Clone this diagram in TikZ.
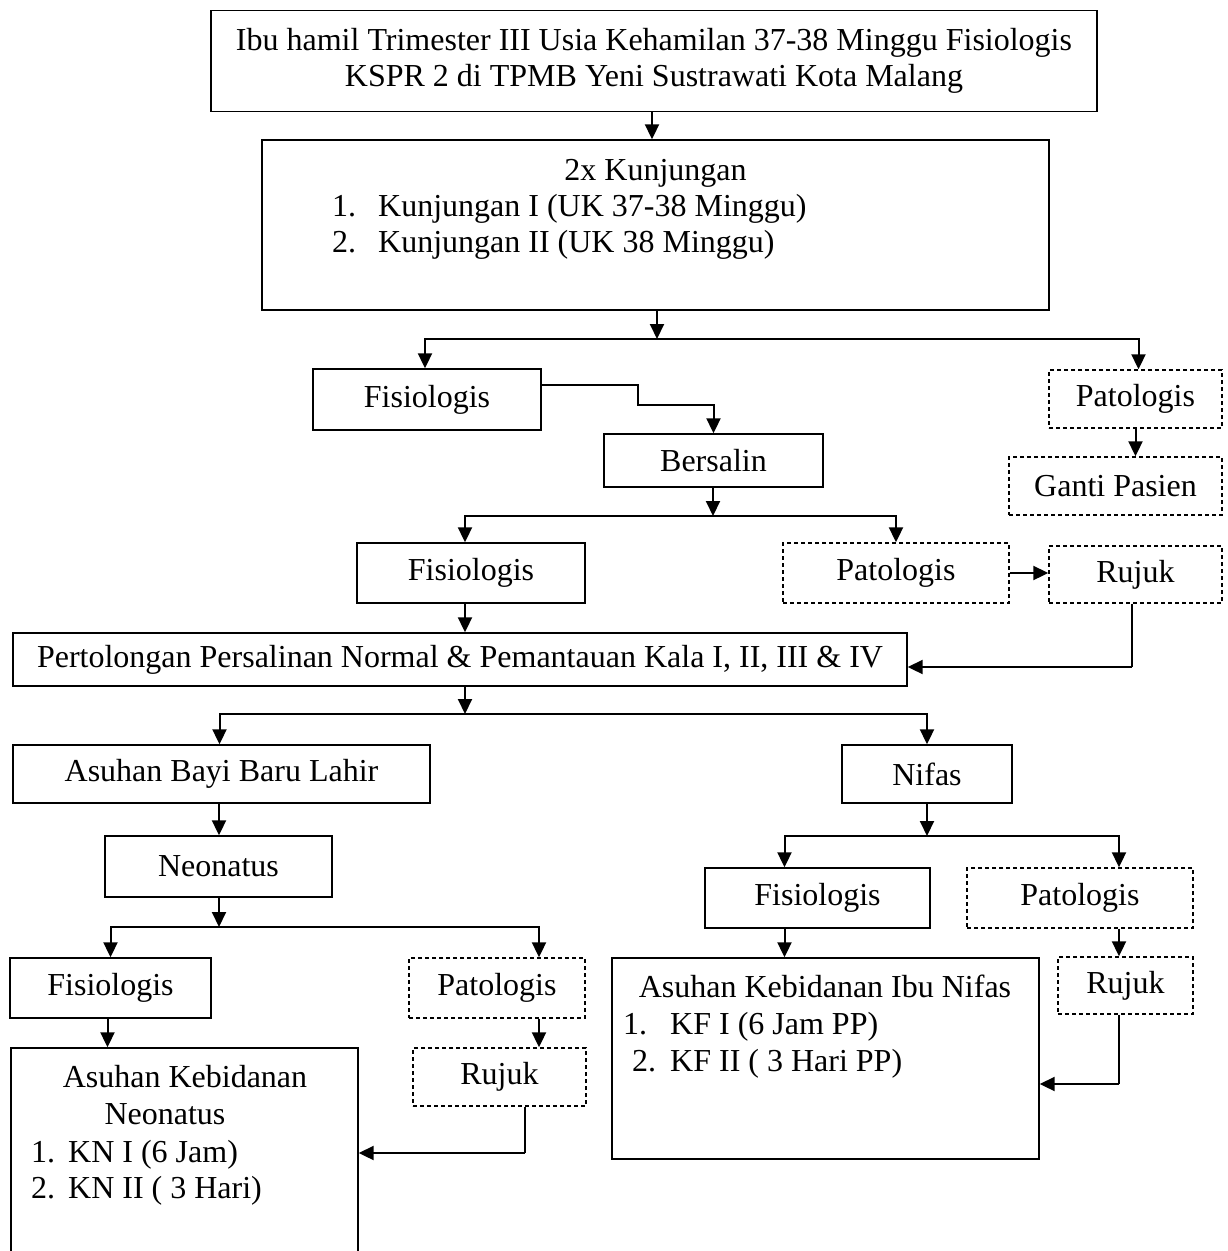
\documentclass[tikz,border=0pt]{standalone}
\usepackage{fontspec}
\setmainfont{Liberation Serif}
\usetikzlibrary{arrows.meta, calc}

\tikzset{
  box/.style={draw, line width=1.4pt, inner sep=0pt},
  dbox/.style={box, dash pattern=on 4pt off 3pt},
  txt/.style={inner sep=0pt, anchor=base west},
  flow/.style={line width=2pt, -{Triangle[length=15pt,width=14pt]}},
  link/.style={line width=2pt}
}

\begin{document}
\begin{tikzpicture}[x=1pt, y=-1pt, font=\fontsize{32}{36.5}\selectfont]
			\useasboundingbox (0,0) rectangle (1227,1251);
			\fill[white] (0,0) rectangle (1227,1251);
			
			% Top of the flow
			\node[box, minimum width=886pt, minimum height=101pt, align=center] (hamil) at (654,61)
				{Ibu hamil Trimester III Usia Kehamilan 37-38 Minggu Fisiologis\\KSPR 2 di TPMB Yeni Sustrawati Kota Malang};
			\node[box, minimum width=787pt, minimum height=170pt] (kunj) at (655.5,225) {};
			\node[inner sep=0pt, anchor=base] (kunjT) at (655.5,180) {2x Kunjungan};
			\node[txt] (k1n) at (332,216) {1.};
			\node[txt] (k1t) at (378,216) {Kunjungan I (UK 37-38 Minggu)};
			\node[txt] (k2n) at (332,252) {2.};
			\node[txt] (k2t) at (378,252) {Kunjungan II (UK 38 Minggu)};
			
			% First split
			\node[box, minimum width=228pt, minimum height=61pt] (fis1) at (427,399.5) {Fisiologis};
			\node[dbox, minimum width=173pt, minimum height=58pt] (pat1) at (1135.5,399) {Patologis};
			\node[dbox, minimum width=213pt, minimum height=58pt] (ganti) at (1115.5,486) {Ganti Pasien};
			\node[box, minimum width=219pt, minimum height=53pt] (bers) at (713.5,460.5) {Bersalin};
			
			% Labour
			\node[box, minimum width=228pt, minimum height=60pt] (fis2) at (471,573) {Fisiologis};
			\node[dbox, minimum width=226pt, minimum height=60pt] (pat2) at (896,573) {Patologis};
			\node[dbox, minimum width=173pt, minimum height=57pt] (rujuk1) at (1135.5,574.5) {Rujuk};
			\node[box, minimum width=894pt, minimum height=53pt] (pert) at (460,659.5)
				{Pertolongan Persalinan Normal \& Pemantauan Kala I, II, III \& IV};
			
			% Baby side
			\node[box, minimum width=417pt, minimum height=58pt] (bbl) at (221.5,774) {Asuhan Bayi Baru Lahir};
			\node[box, minimum width=227pt, minimum height=61pt] (neo) at (218.5,866.5) {Neonatus};
			\node[box, minimum width=201pt, minimum height=60pt] (fis3) at (110.5,988) {Fisiologis};
			\node[dbox, minimum width=176pt, minimum height=60pt] (pat3) at (497,988) {Patologis};
			\node[dbox, minimum width=173pt, minimum height=58pt] (rujuk3) at (499.5,1077) {Rujuk};
			\node[box, minimum width=347pt, minimum height=252pt] (akn) at (184.5,1174) {};
			\node[inner sep=0pt, anchor=base] (aknT) at (185,1087) {Asuhan Kebidanan};
			\node[inner sep=0pt, anchor=base] (aknU) at (165,1124) {Neonatus};
			\node[txt] (n1n) at (31,1162) {1.};
			\node[txt] (n1t) at (68,1162) {KN I (6 Jam)};
			\node[txt] (n2n) at (31,1198) {2.};
			\node[txt] (n2t) at (68,1198) {KN II ( 3 Hari)};
			
			% Mother side
			\node[box, minimum width=170pt, minimum height=58pt] (nifas) at (927,774) {Nifas};
			\node[box, minimum width=225pt, minimum height=60pt] (fis4) at (817.5,898) {Fisiologis};
			\node[dbox, minimum width=226pt, minimum height=60pt] (pat4) at (1080,898) {Patologis};
			\node[dbox, minimum width=135pt, minimum height=57pt] (rujuk4) at (1125.5,985.5) {Rujuk};
			\node[box, minimum width=427pt, minimum height=201pt] (akin) at (825.5,1058.5) {};
			\node[inner sep=0pt, anchor=base] (akinT) at (825,997) {Asuhan Kebidanan Ibu Nifas};
			\node[txt] (f1n) at (623,1034) {1.};
			\node[txt] (f1t) at (670,1034) {KF I (6 Jam PP)};
			\node[txt] (f2n) at (632,1071) {2.};
			\node[txt] (f2t) at (670,1071) {KF II ( 3 Hari PP)};
			
			% Junctions
			\coordinate (j1) at (657,339);
			\coordinate (j2) at (638,405);
			\coordinate (j3) at (713,516);
			\coordinate (j4) at (1132,667);
			\coordinate (j5) at (465,714);
			\coordinate (j6) at (219,927);
			\coordinate (j7) at (525,1153);
			\coordinate (j8) at (927,836);
			\coordinate (j9) at (1119,1084);
			
			% Connectors
			\draw[flow] (hamil.south -| 652,0) -- (kunj.north -| 652,0);
			\draw[flow] (kunj.south -| j1) -- (j1);
			\draw[flow] (j1) -| ([xshift=-2pt]fis1.north);
			\draw[flow] (j1) -| ([xshift=3pt]pat1.north);
			\draw[flow] (pat1.south) -- (pat1.south |- ganti.north);
			\draw[flow] ([yshift=15pt]fis1.east) -| (j2) -| (bers.north);
			\draw[flow] (bers.south -| j3) -- (j3);
			\draw[flow] (j3) -| ([xshift=-6pt]fis2.north);
			\draw[flow] (j3) -| (pat2.north);
			\draw[flow] (pat2.east) -- (pat2.east -| rujuk1.west);
			\draw[flow] ([xshift=-6pt]fis2.south) -- ([xshift=-6pt]fis2.south |- pert.north);
			\draw[link] (rujuk1.south -| j4) -- (j4);
			\draw[flow] (j4) -- (j4 -| pert.east);
			\draw[flow] (pert.south -| j5) -- (j5);
			\draw[flow] (j5) -| ([xshift=-2pt]bbl.north);
			\draw[flow] (j5) -| (nifas.north);
			\draw[flow] (bbl.south -| j6) -- (neo.north -| j6);
			\draw[flow] (neo.south -| j6) -- (j6);
			\draw[flow] (j6) -| (fis3.north);
			\draw[flow] (j6) -| ([xshift=42pt]pat3.north);
			\draw[flow] ([xshift=42pt]pat3.south) -- ([xshift=42pt]pat3.south |- rujuk3.north);
			\draw[flow] ([xshift=-3pt]fis3.south) -- ([xshift=-3pt]fis3.south |- akn.north);
			\draw[link] (rujuk3.south -| j7) -- (j7);
			\draw[flow] (j7) -- (j7 -| akn.east);
			\draw[flow] (nifas.south) -- (j8);
			\draw[flow] (j8) -| ([xshift=-33pt]fis4.north);
			\draw[flow] (j8) -| ([xshift=39pt]pat4.north);
			\draw[flow] ([xshift=-33pt]fis4.south) -- ([xshift=-33pt]fis4.south |- akin.north);
			\draw[flow] ([xshift=39pt]pat4.south) -- ([xshift=39pt]pat4.south |- rujuk4.north);
			\draw[link] (rujuk4.south -| j9) -- (j9);
			\draw[flow] (j9) -- (j9 -| akin.east);
		\end{tikzpicture}
\end{document}
